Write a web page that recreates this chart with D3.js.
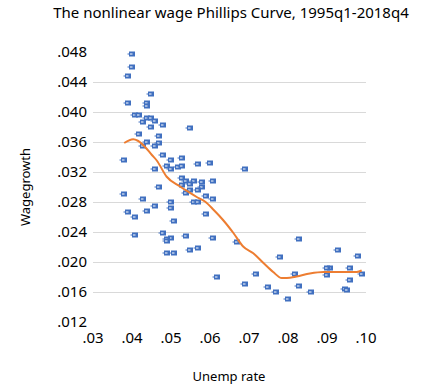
<!DOCTYPE html>
<html>
<head>
<meta charset="utf-8">
<script src="https://cdn.jsdelivr.net/npm/d3@7"></script>
<style>
  body { margin: 0; background: #fff; }
  svg { display: block; font-family: 'Noto Sans', sans-serif; }
</style>
</head>
<body>
<div id="chart"></div>
<script>
// scatter: unemployment rate vs wage growth (quarterly)
const unemp = [
  .0400, .0400, .0390, .0449, .0390, .0439, .0439, .0408, .0418, .0439,
  .0449, .0459, .0428, .0449, .0480, .0549, .0418, .0469, .0439, .0469,
  .0459, .0428, .0480, .0500, .0528, .0380, .0490, .0500, .0518, .0528,
  .0569, .0600, .0459, .0690, .0469, .0528, .0539, .0559, .0549, .0580,
  .0608, .0528, .0580, .0569, .0549, .0539, .0380, .0590, .0608, .0428,
  .0500, .0559, .0569, .0459, .0500, .0439, .0390, .0590, .0408, .0508,
  .0480, .0408, .0500, .0539, .0490, .0490, .0608, .0669, .0828, .0549,
  .0569, .0490, .0508, .0928, .0980, .0780, .0718, .0618, .0818, .0908,
  .0900, .0959, .0900, .0990, .0959, .0828, .0859, .0946, .0951, .0800,
  .0690, .0749, .0769
];
const wage = [
  .0476, .0459, .0448, .0423, .0412, .0411, .0408, .0395, .0395, .0391,
  .0391, .0388, .0386, .0380, .0382, .0378, .0370, .0367, .0359, .0358,
  .0354, .0354, .0342, .0336, .0338, .0335, .0328, .0323, .0326, .0328,
  .0330, .0332, .0324, .0323, .0300, .0311, .0308, .0308, .0304, .0306,
  .0308, .0302, .0300, .0295, .0295, .0292, .0290, .0287, .0284, .0283,
  .0279, .0279, .0279, .0274, .0271, .0268, .0266, .0263, .0259, .0254,
  .0238, .0236, .0232, .0234, .0230, .0227, .0231, .0226, .0230, .0216,
  .0218, .0212, .0212, .0215, .0208, .0206, .0184, .0180, .0183, .0192,
  .0191, .0192, .0182, .0184, .0176, .0167, .0159, .0164, .0162, .0150,
  .0170, .0166, .0159
];

// smoothed (lowess) curve
const fitX = [
  .0380, .0403, .0415, .0433, .0451, .0463, .0489, .0523, .0544, .0566,
  .0587, .0609, .0634, .0660, .0685, .0711, .0737, .0762, .0784, .0797,
  .0822, .0856, .0891, .0938, .0976, .0989
];
const fitY = [
  .0358, .0363, .0361, .0353, .0342, .0335, .0313, .0300, .0293, .0286,
  .0280, .0269, .0255, .0238, .0220, .0211, .0198, .0186, .0178, .0178,
  .0180, .0184, .0186, .0186, .0186, .0188
];

const xTicks = [.03, .04, .05, .06, .07, .08, .09, .10];
const yTicks = [.012, .016, .020, .024, .028, .032, .036, .040, .044, .048];
const gridTicks = [.016, .020, .024, .028, .032, .036, .040, .044];

const width = 427, height = 392;

const svg = d3.select('#chart').append('svg')
  .attr('width', width)
  .attr('height', height);

const x = d3.scaleLinear().domain([.03, .10]).range([93, 366]);
const y = d3.scaleLinear().domain([.012, .048]).range([321.5, 51.5]);

const fmt = (d, n) => d3.format('.' + n + 'f')(d).replace(/^0/, '');

// gridlines
svg.append('g')
  .selectAll('line')
  .data(gridTicks)
  .join('line')
  .attr('x1', x(.03))
  .attr('x2', x(.10))
  .attr('y1', d => Math.round(y(d)) + 0.5)
  .attr('y2', d => Math.round(y(d)) + 0.5)
  .attr('stroke', '#d9d9d9')
  .attr('stroke-width', 1);

// y tick labels
svg.append('g')
  .selectAll('text')
  .data(yTicks)
  .join('text')
  .attr('x', 87)
  .attr('y', d => y(d))
  .attr('dy', '0.35em')
  .attr('text-anchor', 'end')
  .attr('font-size', 15)
  .attr('fill', '#000')
  .text(d => fmt(d, 3));

// x tick labels
svg.append('g')
  .selectAll('text')
  .data(xTicks)
  .join('text')
  .attr('x', d => x(d))
  .attr('y', 338)
  .attr('dy', '0.35em')
  .attr('text-anchor', 'middle')
  .attr('font-size', 15)
  .attr('fill', '#000')
  .text(d => fmt(d, 2));

// markers
const pts = unemp.map((u, i) => ({ u, w: wage[i] }));
const marks = svg.append('g')
  .selectAll('g')
  .data(pts)
  .join('g')
  .attr('transform', d => `translate(${Math.round(x(d.u))}, ${Math.round(y(d.w))})`);

marks.append('rect')
  .attr('x', -3)
  .attr('y', -2.5)
  .attr('width', 6)
  .attr('height', 5)
  .attr('fill', '#4170c0');

marks.append('line')
  .attr('x1', -4.5)
  .attr('x2', -3)
  .attr('y1', 0)
  .attr('y2', 0)
  .attr('stroke', '#4170c0')
  .attr('stroke-width', 1);

marks.append('line')
  .attr('x1', -2)
  .attr('x2', 0.5)
  .attr('y1', 0)
  .attr('y2', 0)
  .attr('stroke', '#fff')
  .attr('stroke-width', 1);

// fitted curve
const line = d3.line()
  .x((d, i) => x(fitX[i]))
  .y(d => y(d))
  .curve(d3.curveMonotoneX);

svg.append('path')
  .datum(fitY)
  .attr('d', line)
  .attr('fill', 'none')
  .attr('stroke', '#ed7d31')
  .attr('stroke-width', 2);

// title and axis titles
svg.append('text')
  .attr('x', 231)
  .attr('y', 18)
  .attr('text-anchor', 'middle')
  .attr('font-size', 15)
  .attr('fill', '#000')
  .text('The nonlinear wage Phillips Curve, 1995q1-2018q4');

svg.append('text')
  .attr('x', 229)
  .attr('y', 381)
  .attr('text-anchor', 'middle')
  .attr('font-size', 13)
  .attr('fill', '#000')
  .text('Unemp rate');

svg.append('text')
  .attr('transform', 'translate(30, 187) rotate(-90)')
  .attr('text-anchor', 'middle')
  .attr('font-size', 13)
  .attr('fill', '#000')
  .text('Wagegrowth');
</script>
</body>
</html>
